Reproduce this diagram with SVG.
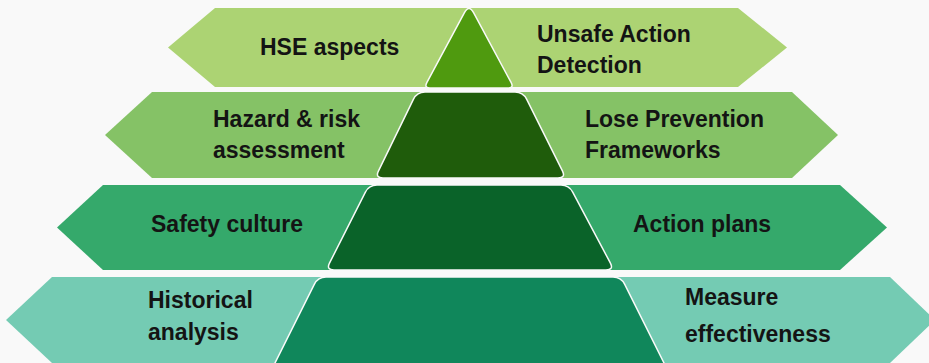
<svg xmlns="http://www.w3.org/2000/svg" width="929" height="363" viewBox="0 0 929 363">
<style>
.t{font-family:"Liberation Sans",Arial,sans-serif;font-weight:bold;font-size:23px;fill:#141414}
.core{stroke:#f9f9f9;stroke-width:1.5}
</style>
<rect width="929" height="363" fill="#f9f9f9"/>
<g id="row1">
<path d="M168,47.5 L215,8 L738,8 L787,47.5 L738,87 L215,87 Z" fill="#acd373"/>
<path class="core" d="M464.3,12.8 Q469,4 473.7,12.8 L511.2,82.7 Q514,88 508,88 L430,88 Q424,88 426.8,82.7 Z" fill="#4f9a0f"/>
<text class="t" x="260" y="55">HSE aspects</text>
<text class="t" x="537" y="42">Unsafe Action</text>
<text class="t" x="537" y="73">Detection</text>
</g>
<g id="row2">
<path d="M105,135 L152,92 L792,92 L838,135 L792,178 L152,178 Z" fill="#85c266"/>
<path class="core" d="M425,92 L515,92 Q523,92 526.6,99.2 L562.4,170.8 Q566,178 558,178 L383,178 Q375,178 378.5,170.8 L413.5,99.2 Q417,92 425,92 Z" fill="#1f5c0b"/>
<text class="t" x="213" y="127">Hazard &amp; risk</text>
<text class="t" x="213" y="158">assessment</text>
<text class="t" x="585" y="127">Lose Prevention</text>
<text class="t" x="585" y="158">Frameworks</text>
</g>
<g id="row3">
<path d="M57,227.5 L103,185 L840,185 L887,227.5 L840,270 L103,270 Z" fill="#35a96b"/>
<path class="core" d="M377,185 L561,185 Q569,185 572.7,192.1 L610.3,262.9 Q614,270 606,270 L334,270 Q326,270 329.6,262.9 L365.4,192.1 Q369,185 377,185 Z" fill="#0a6329"/>
<text class="t" x="151" y="232">Safety culture</text>
<text class="t" x="633" y="232">Action plans</text>
</g>
<g id="row4">
<path d="M6,320 L52,277 L890,277 L935,320 L890,363 L52,363 Z" fill="#74cbb3"/>
<path class="core" d="M326,277 L613,277 Q621,277 624.6,284.2 L668,371 L271,371 L314.4,284.2 Q318,277 326,277 Z" fill="#10875b"/>
<text class="t" x="148" y="308">Historical</text>
<text class="t" x="148" y="340">analysis</text>
<text class="t" x="685" y="305">Measure</text>
<text class="t" x="685" y="342">effectiveness</text>
</g>
<g id="connectors"/>
</svg>
